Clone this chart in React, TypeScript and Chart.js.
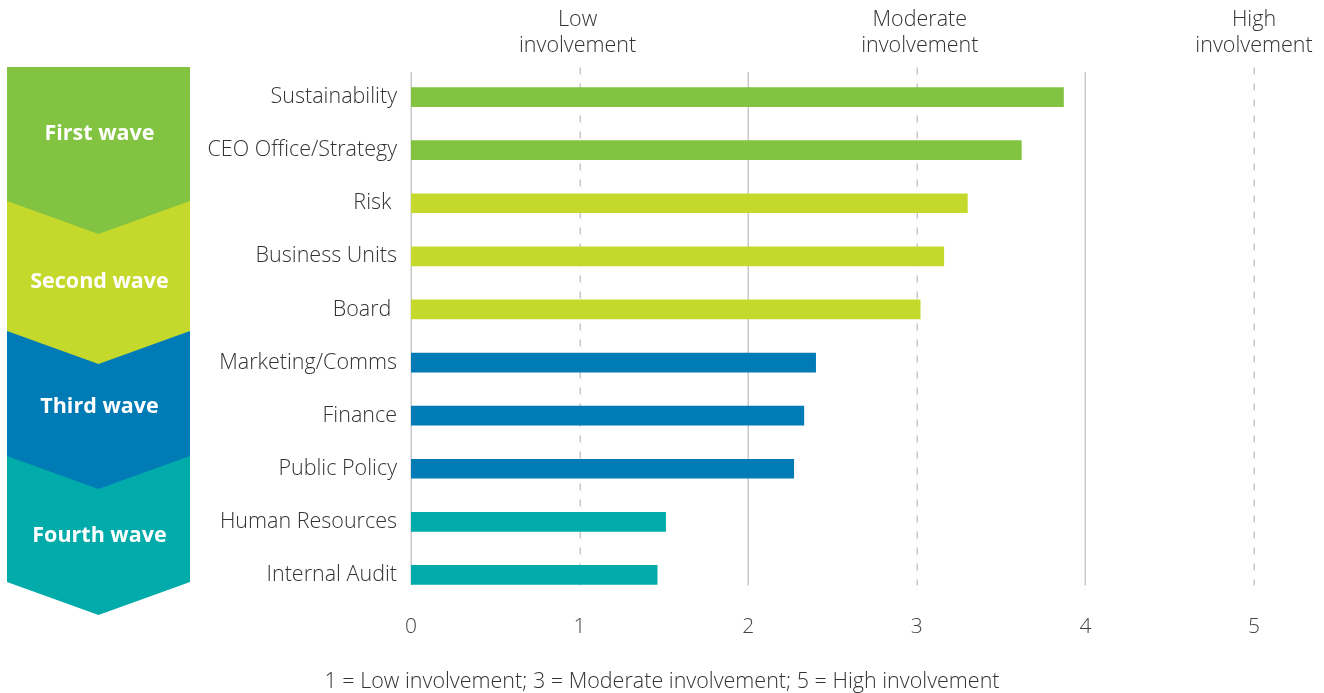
import React, { useEffect, useRef } from "react";
import { Chart, registerables } from "chart.js";

Chart.register(...registerables);

// ---- Data ----
const categories = [
  "Sustainability",
  "CEO Office/Strategy",
  "Risk ",
  "Business Units",
  "Board ",
  "Marketing/Comms",
  "Finance",
  "Public Policy",
  "Human Resources",
  "Internal Audit",
];
const scores = [3.87, 3.62, 3.3, 3.16, 3.02, 2.4, 2.33, 2.27, 1.51, 1.46];
const waveOfCategory = [0, 0, 1, 1, 1, 2, 2, 2, 3, 3];
const waveNames = ["First wave", "Second wave", "Third wave", "Fourth wave"];
const waveColors = ["#82C341", "#C5D92D", "#007BB6", "#00ABAA"];
const xTickValues = [0, 1, 2, 3, 4, 5];
const topLabelValues = [1, 3, 5];
const topLabelLines = [
  ["Low", "involvement"],
  ["Moderate", "involvement"],
  ["High", "involvement"],
];
const footnote = "1 = Low involvement; 3 = Moderate involvement; 5 = High involvement";

// ---- Decoration layout (wave chevrons) ----
const waveLeft = 7;
const waveRight = 190;
const waveTops = [67, 201, 331, 456];
const waveEdgeBottoms = [201, 331, 456, 582];
const chevronDepth = 33;
const waveLabelYs = [134, 282, 407, 536];

const FONT = "'Open Sans', 'Noto Sans', sans-serif";

const decorPlugin = {
  id: "decor",
  beforeDatasetsDraw(chart: any) {
    const { ctx, chartArea, scales } = chart;
    const x = scales.x;
    ctx.save();
    ctx.strokeStyle = "#c8c8c8";
    ctx.lineWidth = 1.5;
    xTickValues.forEach((v) => {
      const px = Math.round(x.getPixelForValue(v)) + 0.25;
      ctx.setLineDash(v % 2 === 1 ? [7, 9] : []);
      ctx.beginPath();
      ctx.moveTo(px, chartArea.top + (v % 2 === 1 ? -3 : 1.5));
      ctx.lineTo(px, chartArea.bottom - 16);
      ctx.stroke();
    });
    ctx.restore();
  },
  afterDraw(chart: any) {
    const { ctx, scales, width } = chart;
    const x = scales.x;
    ctx.save();
    // waves: draw bottom-up so upper chevrons overlap lower
    const cx = (waveLeft + waveRight) / 2;
    for (let i = waveNames.length - 1; i >= 0; i--) {
      ctx.fillStyle = waveColors[i];
      ctx.beginPath();
      ctx.moveTo(waveLeft, waveTops[i]);
      ctx.lineTo(waveRight, waveTops[i]);
      ctx.lineTo(waveRight, waveEdgeBottoms[i]);
      ctx.lineTo(cx, waveEdgeBottoms[i] + chevronDepth);
      ctx.lineTo(waveLeft, waveEdgeBottoms[i]);
      ctx.closePath();
      ctx.fill();
    }
    ctx.fillStyle = "#ffffff";
    ctx.font = `bold 21.5px ${FONT}`;
    ctx.textAlign = "center";
    ctx.textBaseline = "middle";
    waveNames.forEach((n, i) => {
      ctx.fillText(n, cx + 1, waveLabelYs[i]);
    });

    // top labels
    ctx.fillStyle = "#333333";
    ctx.font = `300 21.5px ${FONT}`;
    topLabelValues.forEach((v, i) => {
      const px = x.getPixelForValue(v) + (v === 3 ? 3 : v === 1 ? -2 : 0);
      topLabelLines[i].forEach((line, j) => {
        ctx.fillText(line, px, 19.5 + j * 26);
      });
    });

    // footnote
    ctx.fillText(footnote, width / 2, 681.5);
    ctx.restore();
  },
};

export default function App() {
  const ref = useRef<HTMLCanvasElement | null>(null);
  useEffect(() => {
    if (!ref.current) return;
    const chart = new Chart(ref.current, {
      type: "bar",
      data: {
        labels: categories,
        datasets: [
          {
            data: scores,
            backgroundColor: waveOfCategory.map((w) => waveColors[w]),
            barThickness: 19,
            borderWidth: 0,
          },
        ],
      },
      options: {
        indexAxis: "y",
        responsive: false,
        animation: false,
        layout: { padding: { top: 70.5, bottom: 44.5, left: 0, right: 70 } },
        plugins: {
          legend: { display: false },
          tooltip: { enabled: false },
        },
        scales: {
          x: {
            min: 0,
            max: 5,
            afterBuildTicks: (s: any) => {
              s.ticks = xTickValues.map((v) => ({ value: v }));
            },
            afterFit: (s: any) => {
              s.height = 47;
            },
            ticks: {
              padding: 13,
              color: "#444444",
              font: { family: FONT, size: 21, weight: "300" as any },
            },
            grid: { display: false, drawTicks: false },
            border: { display: false },
          },
          y: {
            afterFit: (s: any) => {
              s.width = 411;
            },
            ticks: {
              padding: 14,
              color: "#333333",
              font: { family: FONT, size: 21.5, weight: "300" as any },
            },
            grid: { display: false, drawTicks: false },
            border: { display: false },
          },
        },
      },
      plugins: [decorPlugin],
    });
    return () => chart.destroy();
  }, []);
  return (
    <div
      style={{
        position: "fixed",
        left: 0,
        top: 0,
        width: 1324,
        height: 693,
        background: "#ffffff",
      }}
    >
      <canvas ref={ref} width={1324} height={693} style={{ display: "block" }} />
    </div>
  );
}
